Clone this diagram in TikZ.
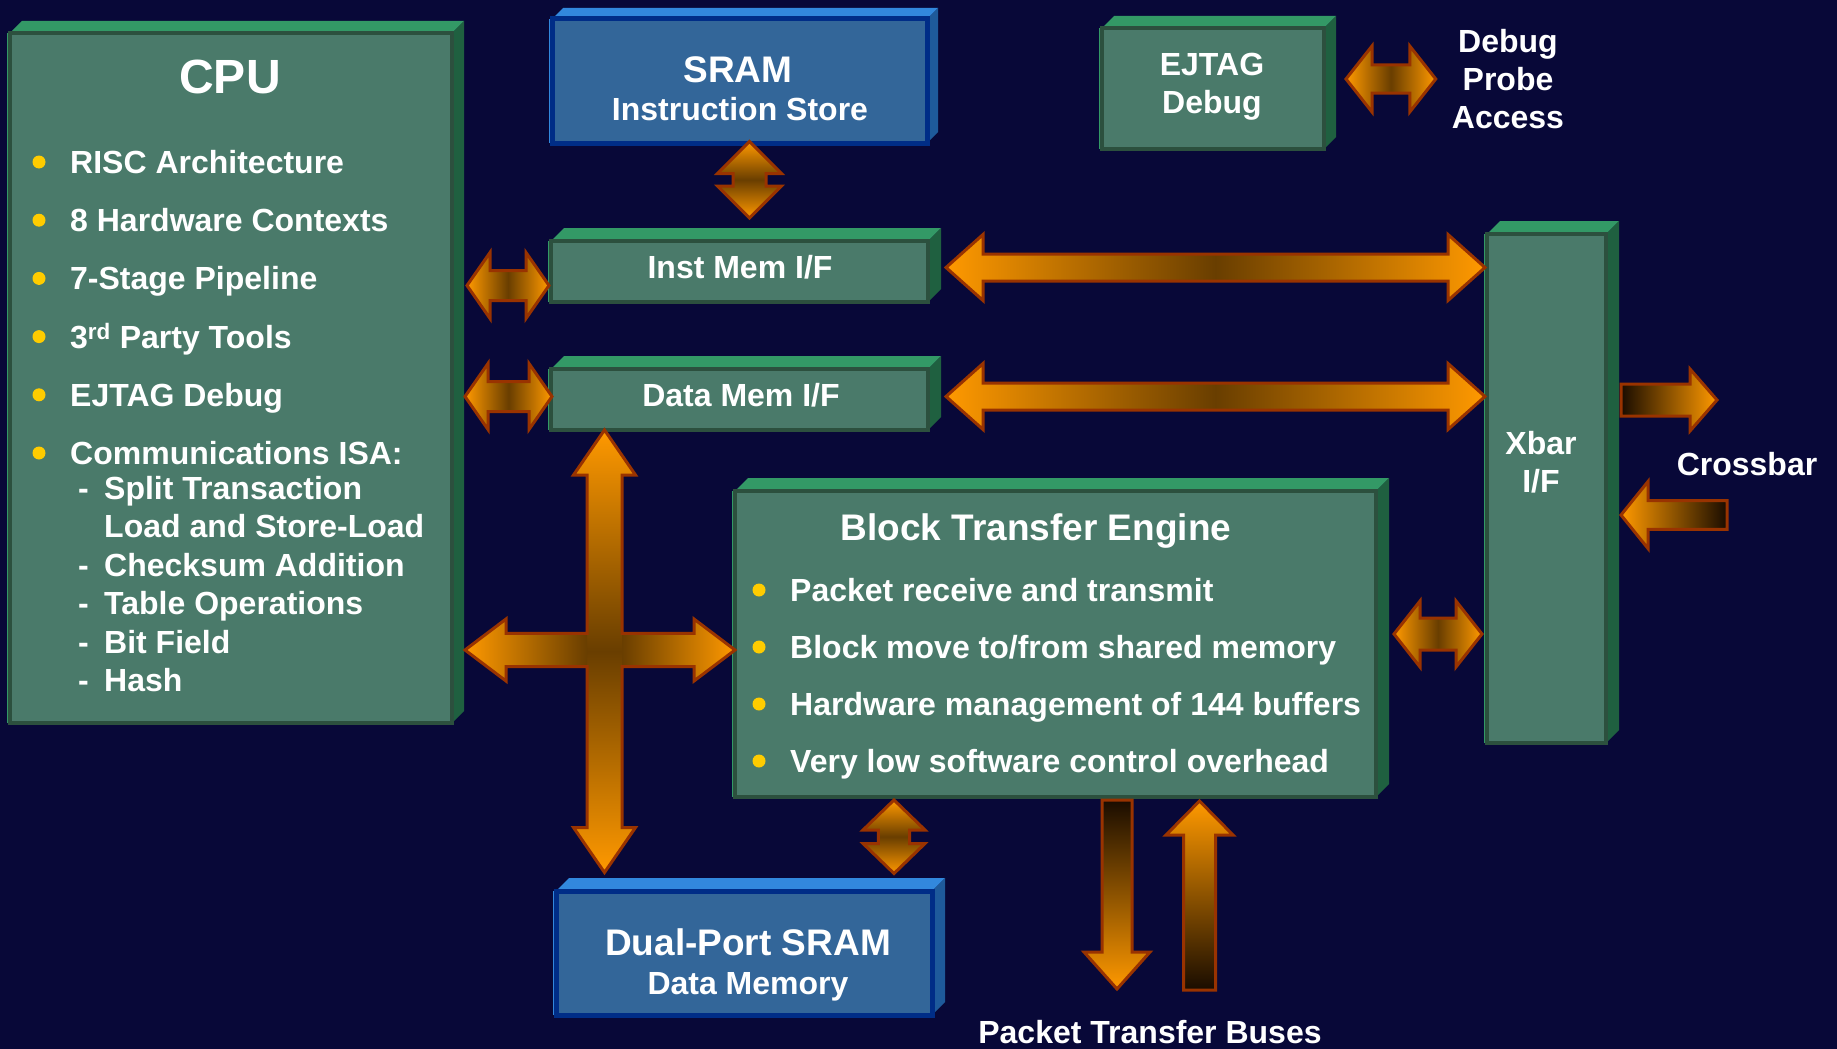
\documentclass[tikz,border=0pt]{standalone}
\usepackage{fontspec}
\setmainfont{Liberation Sans}
\usetikzlibrary{calc}

\definecolor{bgnavy}{RGB}{8,8,56}
\definecolor{gface}{RGB}{74,122,106}
\definecolor{gborder}{RGB}{44,80,62}
\definecolor{gtop}{RGB}{51,153,102}
\definecolor{gside}{RGB}{31,96,64}
\definecolor{bface}{RGB}{51,102,153}
\definecolor{bborder}{RGB}{0,45,135}
\definecolor{btop}{RGB}{50,136,221}
\definecolor{bside}{RGB}{30,90,155}
\definecolor{bullet}{RGB}{255,204,0}
\definecolor{arrorange}{RGB}{255,153,0}
\definecolor{arrmid}{RGB}{105,62,0}
\definecolor{arrdark}{RGB}{25,12,0}
\definecolor{arrline}{RGB}{153,51,0}

\newcommand\bodyfont{\fontsize{32}{38}\selectfont\bfseries}
\newcommand\headfont{\fontsize{37}{44}\selectfont\bfseries}
\newcommand\cpufont{\fontsize{48}{56}\selectfont\bfseries}

\tikzset{
  green top/.style={color=gtop}, green side/.style={color=gside},
  green face/.style={draw=gborder, fill=gface, line width=4pt, inner sep=0pt},
  blue top/.style={color=btop}, blue side/.style={color=bside},
  blue face/.style={draw=bborder, fill=bface, line width=5pt, inner sep=0pt},
  txt/.style={text=white, inner sep=0pt, font=\bodyfont},
  barrow/.style={draw=arrline, line width=3pt},
  dot/.style={fill=bullet},
}

% 3d slab: name, x1, y1, x2, y2 (front face), depth, colour set
\newcommand\slab[7]{%
  \fill[#7 top] (#2,#3) -- ({#2+#6},{#3-#6}) -- ({#4+#6},{#3-#6}) -- (#4,#3) -- cycle;
  \fill[#7 side] (#4,#3) -- ({#4+#6},{#3-#6}) -- ({#4+#6},{#5-#6}) -- (#4,#5) -- cycle;
  \draw[#7 top, line width=3pt] ({#2-1.5},#3) -- ({#2-1.5},#5);
  \node[#7 face, minimum width={(#4-#2)*1pt}, minimum height={(#5-#3)*1pt}] (#1) at ({(#2+#4)/2},{(#3+#5)/2}) {};
}

% block arrows: shaft half, head half, head length
\newcommand\hbiarrow[5]{%
  \shadedraw[barrow, left color=arrorange, right color=arrorange, middle color=arrmid]
    let \p1=(#1), \p2=(#2) in
    (\x1,\y1) -- ({\x1+#5pt},{\y1+#4pt}) -- ({\x1+#5pt},{\y1+#3pt}) -- ({\x2-#5pt},{\y1+#3pt})
    -- ({\x2-#5pt},{\y1+#4pt}) -- (\x2,\y1) -- ({\x2-#5pt},{\y1-#4pt}) -- ({\x2-#5pt},{\y1-#3pt})
    -- ({\x1+#5pt},{\y1-#3pt}) -- ({\x1+#5pt},{\y1-#4pt}) -- cycle;
}
\newcommand\vbiarrow[5]{%
  \shadedraw[barrow, top color=arrorange, bottom color=arrorange, middle color=arrmid]
    let \p1=(#1), \p2=(#2) in
    (\x1,\y1) -- ({\x1+#4pt},{\y1-#5pt}) -- ({\x1+#3pt},{\y1-#5pt}) -- ({\x1+#3pt},{\y2+#5pt})
    -- ({\x1+#4pt},{\y2+#5pt}) -- (\x1,\y2) -- ({\x1-#4pt},{\y2+#5pt}) -- ({\x1-#3pt},{\y2+#5pt})
    -- ({\x1-#3pt},{\y1-#5pt}) -- ({\x1-#4pt},{\y1-#5pt}) -- cycle;
}
% single arrows: shading, tail, tip, shaft half, head half, signed head length
\newcommand\harrow[6]{%
  \shadedraw[barrow, #1] let \p1=(#2), \p2=(#3) in
    (\x1,{\y1+#4pt}) -- ({\x2-(#6pt)},{\y1+#4pt}) -- ({\x2-(#6pt)},{\y1+#5pt}) -- (\x2,\y1)
    -- ({\x2-(#6pt)},{\y1-#5pt}) -- ({\x2-(#6pt)},{\y1-#4pt}) -- (\x1,{\y1-#4pt}) -- cycle;
}
\newcommand\varrow[6]{%
  \shadedraw[barrow, #1] let \p1=(#2), \p2=(#3) in
    ({\x1+#4pt},\y1) -- ({\x1+#4pt},{\y2+(#6pt)}) -- ({\x1+#5pt},{\y2+(#6pt)}) -- (\x1,\y2)
    -- ({\x1-#5pt},{\y2+(#6pt)}) -- ({\x1-#4pt},{\y2+(#6pt)}) -- ({\x1-#4pt},\y1) -- cycle;
}
% four way arrow: top, bottom, left, right tips
\newcommand\crossarrow[4]{%
  \shade[top color=arrorange, bottom color=arrorange, middle color=arrmid]
    let \p1=(#1), \p2=(#2) in
    (\x1,\y1) -- ({\x1+31pt},{\y1-45pt}) -- ({\x1+17.5pt},{\y1-45pt}) -- ({\x1+17.5pt},{\y2+45pt})
    -- ({\x1+31pt},{\y2+45pt}) -- (\x1,\y2) -- ({\x1-31pt},{\y2+45pt}) -- ({\x1-17.5pt},{\y2+45pt})
    -- ({\x1-17.5pt},{\y1-45pt}) -- ({\x1-31pt},{\y1-45pt}) -- cycle;
  \shade[left color=arrorange, right color=arrmid] let \p1=(#1), \p3=(#3) in
    (\x3,\y3) -- ({\x3+41pt},{\y3+31pt}) -- ({\x3+41pt},{\y3+16.7pt}) -- ({\x1-17.5pt},{\y3+16.7pt})
    -- ({\x1-17.5pt},{\y3-16.7pt}) -- ({\x3+41pt},{\y3-16.7pt}) -- ({\x3+41pt},{\y3-31pt}) -- cycle;
  \shade[left color=arrmid, right color=arrorange] let \p1=(#1), \p3=(#3), \p4=(#4) in
    (\x4,\y3) -- ({\x4-41pt},{\y3+31pt}) -- ({\x4-41pt},{\y3+16.7pt}) -- ({\x1+17.5pt},{\y3+16.7pt})
    -- ({\x1+17.5pt},{\y3-16.7pt}) -- ({\x4-41pt},{\y3-16.7pt}) -- ({\x4-41pt},{\y3-31pt}) -- cycle;
  \draw[barrow] let \p1=(#1), \p2=(#2), \p3=(#3), \p4=(#4) in
    (\x1,\y1) -- ({\x1+31pt},{\y1-45pt}) -- ({\x1+17.5pt},{\y1-45pt}) -- ({\x1+17.5pt},{\y3+16.7pt})
    -- ({\x4-41pt},{\y3+16.7pt}) -- ({\x4-41pt},{\y3+31pt}) -- (\x4,\y3) -- ({\x4-41pt},{\y3-31pt})
    -- ({\x4-41pt},{\y3-16.7pt}) -- ({\x1+17.5pt},{\y3-16.7pt}) -- ({\x1+17.5pt},{\y2+45pt})
    -- ({\x1+31pt},{\y2+45pt}) -- (\x1,\y2) -- ({\x1-31pt},{\y2+45pt}) -- ({\x1-17.5pt},{\y2+45pt})
    -- ({\x1-17.5pt},{\y3-16.7pt}) -- ({\x3+41pt},{\y3-16.7pt}) -- ({\x3+41pt},{\y3-31pt}) -- (\x3,\y3)
    -- ({\x3+41pt},{\y3+31pt}) -- ({\x3+41pt},{\y3+16.7pt}) -- ({\x1-17.5pt},{\y3+16.7pt})
    -- ({\x1-17.5pt},{\y1-45pt}) -- ({\x1-31pt},{\y1-45pt}) -- cycle;
}

\begin{document}
\begin{tikzpicture}[x=1pt, y=-1pt]
  \useasboundingbox (0,0) rectangle (1837,1049);
  \fill[bgnavy] (0,0) rectangle (1837,1049);

  % boxes
  \slab{cpu}{10}{33}{452}{723}{12}{green}
  \slab{sram}{552}{19}{927}{143}{11}{blue}
  \slab{imem}{551}{241}{928}{302}{13}{green}
  \slab{dmem}{551}{369}{928}{430}{13}{green}
  \slab{ejtag}{1102}{28}{1324}{149}{12}{green}
  \slab{xbar}{1487}{234}{1606}{743}{13}{green}
  \slab{bte}{735}{491}{1376}{797}{13}{green}
  \slab{dpram}{556}{891}{932}{1015}{13}{blue}
  \coordinate (cpu-r) at ([xshift=13pt]cpu.east);

  % CPU
  \node[txt, font=\cpufont, anchor=base] (cpu-title) at (230,93) {CPU};
  \foreach \t [count=\i] in {RISC Architecture, 8 Hardware Contexts, 7-Stage Pipeline,
      3\textsuperscript{rd} Party Tools, EJTAG Debug, Communications ISA:}{
    \fill[dot] (39,{162+(\i-1)*58.2}) circle[radius=6.5pt];
    \node[txt, anchor=base west] (cpu-\i) at (70,{173.5+(\i-1)*58.2}) {\t};
  }
  \foreach \t/\d [count=\i] in {Split Transaction/-, Load and Store-Load/, Checksum Addition/-,
      Table Operations/-, Bit Field/-, Hash/-}{
    \node[txt, anchor=base west] (isa-d\i) at (78,{499.5+(\i-1)*38.4}) {\d};
    \node[txt, anchor=base west] (isa-\i) at (104,{499.5+(\i-1)*38.4}) {\t};
  }

  % memories and interfaces
  \node[txt, font=\headfont, anchor=base] (sram-1) at (738,82) {SRAM};
  \node[txt, anchor=base] (sram-2) at (740,120) {Instruction Store};
  \node[txt, anchor=base] (imem-lbl) at (740,278.5) {Inst Mem I/F};
  \node[txt, anchor=base] (dmem-lbl) at (741,406.5) {Data Mem I/F};
  \node[txt, font=\headfont, anchor=base] (dpram-1) at (748,955) {Dual-Port SRAM};
  \node[txt, anchor=base] (dpram-2) at (748,994) {Data Memory};
  \node[txt, align=center, anchor=north] (ejtag-lbl) at (1212,53) {EJTAG\\Debug};
  \node[txt, align=center, anchor=north] (probe) at (1508,29) {Debug\\Probe\\Access};
  \node[txt, align=center, anchor=north] (xbar-lbl) at (1541,431.5) {Xbar\\I/F};
  \node[txt, anchor=base] (xbar-note) at (1747,475.5) {Crossbar};
  \node[txt, anchor=base] (buses) at (1150,1043) {Packet Transfer Buses};

  % block transfer engine
  \node[txt, font=\headfont, anchor=base] (bte-title) at (1036,540.5) {Block Transfer Engine};
  \foreach \t [count=\i] in {Packet receive and transmit, Block move to/from shared memory,
      Hardware management of 144 buffers, Very low software control overhead}{
    \fill[dot] (759,{590+(\i-1)*57}) circle[radius=6.5pt];
    \node[txt, anchor=base west] (bte-\i) at (790,{601.5+(\i-1)*57}) {\t};
  }

  % connectors
  \vbiarrow{$(sram.south)+(10,-4)$}{$(imem.north)+(10,-21)$}{16.5}{32}{32}
  \hbiarrow{$(cpu-r |- imem.west)+(0,14)$}{$(imem.west)+(0,14)$}{15}{33}{23}
  \hbiarrow{$(cpu-r |- dmem.west)+(-2,-3)$}{$(dmem.west)+(3,-3)$}{15}{33}{23}
  \hbiarrow{$(imem.east)+(16,-4)$}{xbar.west}{13.5}{33}{37}
  \hbiarrow{$(dmem.east)+(16,-3)$}{xbar.west}{13.5}{33}{37}
  \hbiarrow{$(ejtag.east)+(20,-9.5)$}{$(probe.west)+(-16,0)$}{14}{33}{26}
  \hbiarrow{$(bte.east)+(16,-10)$}{$(xbar.west)+(-3,0)$}{16}{33}{26}
  \vbiarrow{$(bte.south)+(-161.5,1)$}{$(dpram.north)+(150,-15)$}{15.6}{31}{30}
  \coordinate (xbar-out) at ($(xbar.east)+(13,-88.5)$);
  \coordinate (xbar-in) at ($(xbar.east)+(13,26.5)$);
  \harrow{left color=arrdark, right color=arrorange}{xbar-out}{$(xbar-out)+(96,0)$}{16}{31}{27}
  \harrow{left color=arrorange, right color=arrdark}{$(xbar-in)+(106,0)$}{xbar-in}{14.4}{33.5}{-27}
  \coordinate (bus-out) at ($(bte.south)+(61.5,1)$);
  \coordinate (bus-in) at ($(bte.south)+(144,191)$);
  \varrow{top color=arrdark, bottom color=arrorange}{bus-out}{$(bus-out)+(0,189)$}{15}{33}{37}
  \varrow{top color=arrorange, bottom color=arrdark}{bus-in}{$(bte.south)+(144,2)$}{16}{33.5}{-34}
  \crossarrow{$(dmem.south)+(-135,-2)$}{$(dpram.north)+(-139.5,-16)$}{$(cpu.east)+(11,272)$}{$(bte.west)+(2,6)$}
\end{tikzpicture}
\end{document}
